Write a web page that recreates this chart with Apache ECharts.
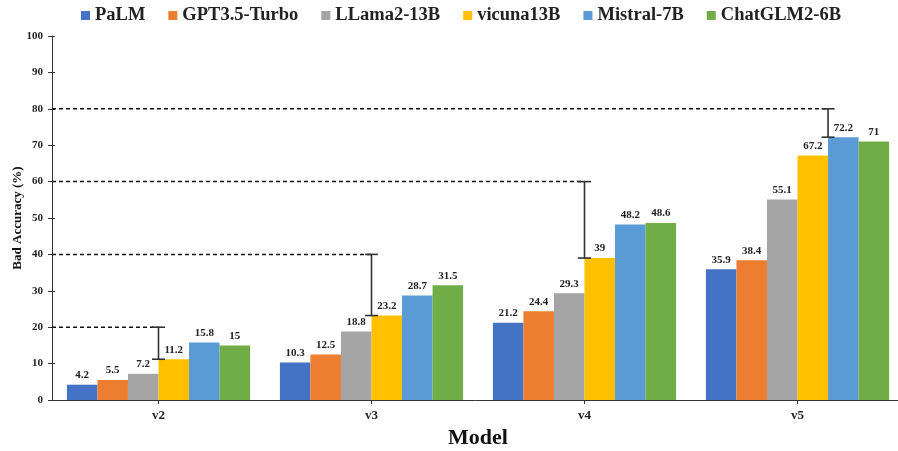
<!DOCTYPE html>
<html><head><meta charset="utf-8">
<script src="https://cdn.jsdelivr.net/npm/echarts@6/dist/echarts.min.js"></script>
<style>html,body{margin:0;padding:0;background:#fff}#c{width:898px;height:451px}</style>
</head><body><div id="c"></div>
<script>
const categories = ['v2', 'v3', 'v4', 'v5'];
const seriesNames = ['PaLM', 'GPT3.5-Turbo', 'LLama2-13B', 'vicuna13B', 'Mistral-7B', 'ChatGLM2-6B'];
const palm    = [4.2, 10.3, 21.2, 35.9];
const gpt35   = [5.5, 12.5, 24.4, 38.4];
const llama2  = [7.2, 18.8, 29.3, 55.1];
const vicuna  = [11.2, 23.2, 39, 67.2];
const mistral = [15.8, 28.7, 48.2, 72.2];
const chatglm = [15, 31.5, 48.6, 71];
const yTicks = [0, 10, 20, 30, 40, 50, 60, 70, 80, 90, 100];
// threshold lines with error bars: anchored on a model's bar top up to the threshold
const errAnchor = ['vicuna13B', 'vicuna13B', 'vicuna13B', 'Mistral-7B'];
const errHigh = [20, 40, 60, 80];

const colors = ['#4472C4', '#ED7D31', '#A5A5A5', '#FFC000', '#5B9BD5', '#70AD47'];
const values = [palm, gpt35, llama2, vicuna, mistral, chatglm];
const FONT = '"Liberation Serif", "DejaVu Serif", serif';
const CAT_GAP = 0.14;

const errData = categories.map((c, i) => {
  const k = seriesNames.indexOf(errAnchor[i]);
  return [i, values[k][i], errHigh[i], k];
});

const chart = echarts.init(document.getElementById('c'));
const barSeries = seriesNames.map((n, s) => ({
  name: n, type: 'bar', data: values[s], barGap: '0%', barCategoryGap: (CAT_GAP * 100) + '%',
  itemStyle: { color: colors[s] },
  label: { show: true, position: 'top', distance: 4, fontFamily: FONT, fontWeight: 'bold', fontSize: 11, color: '#222' }
}));

const yMin = yTicks[0], yMax = yTicks[yTicks.length - 1], yStep = yTicks[1] - yTicks[0];

chart.setOption({
  animation: false,
  legend: {
    data: seriesNames, top: 1, left: 76, itemWidth: 9, itemHeight: 9, itemGap: 23,
    icon: 'rect',
    textStyle: { fontFamily: FONT, fontWeight: 'bold', fontSize: 18.5, color: '#222' }
  },
  grid: { left: 52, right: -6, top: 36, bottom: 51, containLabel: false, outerBoundsMode: 'none' },
  xAxis: {
    type: 'category', data: categories,
    name: 'Model', nameLocation: 'middle', nameGap: 27,
    nameTextStyle: { fontFamily: FONT, fontWeight: 'bold', fontSize: 22, color: '#111' },
    axisLine: { lineStyle: { color: '#333', width: 1 } },
    axisTick: { show: true, alignWithLabel: true, length: 4, lineStyle: { color: '#333' } },
    axisLabel: { fontFamily: FONT, fontWeight: 'bold', fontSize: 13, color: '#222', margin: 9 }
  },
  yAxis: [{
    type: 'value', min: yMin, max: yMax, interval: yStep,
    name: 'Bad Accuracy (%)', nameLocation: 'middle', nameGap: 28, nameMoveOverlap: false,
    nameTextStyle: { fontFamily: FONT, fontWeight: 'bold', fontSize: 13, color: '#111' },
    axisLine: { show: true, lineStyle: { color: '#333', width: 1 } },
    axisTick: { show: true, length: 4, lineStyle: { color: '#333' } },
    splitLine: { show: false },
    axisLabel: { fontFamily: FONT, fontWeight: 'bold', fontSize: 11, color: '#222', margin: 9 }
  }, {
    type: 'value', min: yMin, max: yMax, interval: yStep, position: 'left', offset: 0,
    axisLine: { show: false },
    axisTick: { show: true, inside: true, length: 3, lineStyle: { color: '#333' } },
    splitLine: { show: false },
    axisLabel: { show: false }
  }],
  series: barSeries.concat([{
    type: 'custom', name: 'err', z: 5, silent: true,
    data: errData,
    renderItem: function (params, api) {
      const ci = api.value(0), lo = api.value(1), hi = api.value(2), k = api.value(3);
      const band = api.size([1, 0])[0];
      const bw = band * (1 - CAT_GAP) / seriesNames.length;
      const cx = api.coord([ci, 0])[0];
      const x = cx - bw * seriesNames.length / 2 + k * bw;
      const yl = api.coord([ci, lo])[1];
      const yh = api.coord([ci, hi])[1];
      const left = params.coordSys.x;
      const st = { stroke: '#333', lineWidth: 1.6 };
      return {
        type: 'group',
        children: [
          { type: 'line', shape: { x1: left, y1: yh, x2: x, y2: yh }, style: { stroke: '#111', lineWidth: 1.5, lineDash: [4, 3] } },
          { type: 'line', shape: { x1: x, y1: yl, x2: x, y2: yh }, style: st },
          { type: 'line', shape: { x1: x - 6.5, y1: yh, x2: x + 6.5, y2: yh }, style: st },
          { type: 'line', shape: { x1: x - 6.5, y1: yl, x2: x + 6.5, y2: yl }, style: st }
        ]
      };
    }
  }])
});
</script></body></html>
